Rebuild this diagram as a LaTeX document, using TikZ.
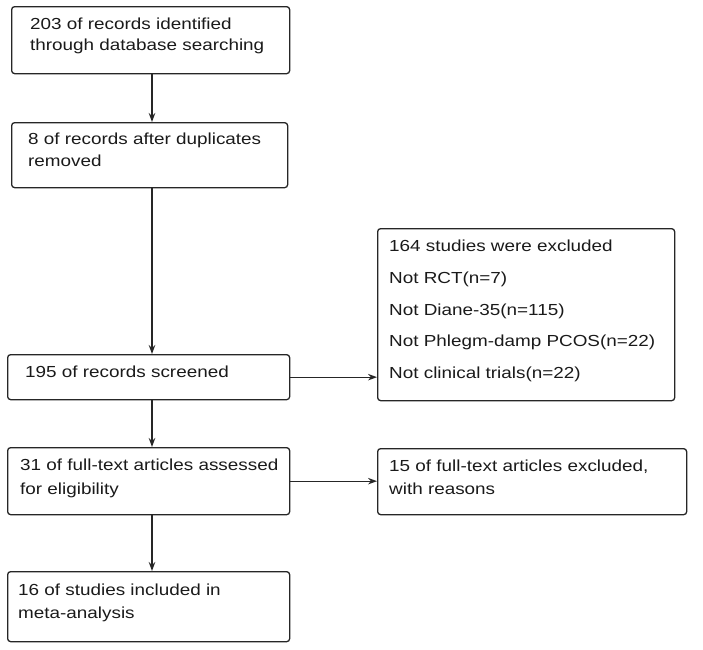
\documentclass[tikz,border=0pt]{standalone}
\usepackage{fontspec}
\setmainfont[FakeStretch=1.18]{Liberation Sans}
\usetikzlibrary{arrows.meta}
\definecolor{lc}{HTML}{262626}
\definecolor{tc}{HTML}{1A1A1A}
\tikzset{
  box/.style={draw=lc, line width=1.3pt, rounded corners=3pt, inner sep=0pt, anchor=north west},
  txt/.style={anchor=north west, inner sep=0pt, align=left, text=tc},
  conn/.style={draw=lc, line width=1.2pt, -{Stealth[length=9pt,width=6.5pt]}}
}
\begin{document}
\begin{tikzpicture}[x=1pt,y=-1pt]
\useasboundingbox (0,0) rectangle (703,649);
% boxes
\node[box, minimum width=278pt, minimum height=67pt] (b1) at (11,6) {};
\node[box, minimum width=276pt, minimum height=65pt] (b2) at (11,122) {};
\node[box, minimum width=282pt, minimum height=45pt] (b3) at (7,354) {};
\node[box, minimum width=297pt, minimum height=172pt] (b4) at (377,228) {};
\node[box, minimum width=282pt, minimum height=67pt] (b5) at (7,447) {};
\node[box, minimum width=309pt, minimum height=66pt] (b6) at (377,448) {};
\node[box, minimum width=282pt, minimum height=70pt] (b7) at (7,571) {};
% texts
\node[txt, font=\fontsize{16}{21}\selectfont] (t1) at (30,17.9) {203 of records identified\\through database searching};
\node[txt, font=\fontsize{16}{22}\selectfont] (t2) at (28,132.4) {8 of records after duplicates\\removed};
\node[txt, font=\fontsize{16}{22}\selectfont] (t3) at (25,365.4) {195 of records screened};
\node[txt, font=\fontsize{16}{31.6}\selectfont] (t4) at (389,240.1) {164 studies were excluded\\Not RCT(n=7)\\Not Diane-35(n=115)\\Not Phlegm-damp PCOS(n=22)\\Not clinical trials(n=22)};
\node[txt, font=\fontsize{16}{23.3}\selectfont] (t5) at (20,459.1) {31 of full-text articles assessed\\for eligibility};
\node[txt, font=\fontsize{16}{23}\selectfont] (t6) at (389,459.4) {15 of full-text articles excluded,\\with reasons};
\node[txt, font=\fontsize{16}{22.7}\selectfont] (t7) at (18,584.1) {16 of studies included in\\meta-analysis};
% connectors
\coordinate (ax) at (152,0);
\draw[conn] (b1.south -| ax) -- (b2.north -| ax);
\draw[conn] (b2.south -| ax) -- (b3.north -| ax);
\draw[conn] (b3.east) -- (b3.east -| b4.west);
\draw[conn] (b3.south -| ax) -- (b5.north -| ax);
\draw[conn] (b5.east) -- (b5.east -| b6.west);
\draw[conn] (b5.south -| ax) -- (b7.north -| ax);
\end{tikzpicture}
\end{document}
